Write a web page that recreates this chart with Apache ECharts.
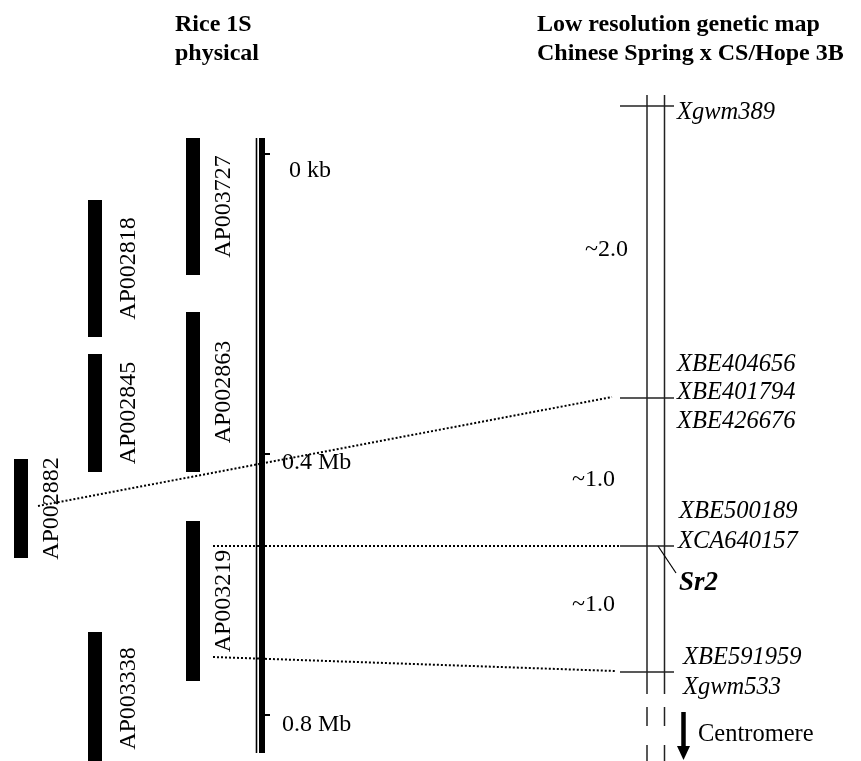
<!DOCTYPE html>
<html><head><meta charset="utf-8">
<script src="https://cdn.jsdelivr.net/npm/echarts@6/dist/echarts.min.js"></script>
<style>html,body{margin:0;padding:0;background:#fff}#c{width:861px;height:761px}</style>
</head><body><div id="c"></div>
<script>
// ---- Data (diagram units: x across, y down the chromosome) ----
// Rice 1S BAC clones
const bacNames = ['AP003727','AP002818','AP002845','AP002863','AP002882','AP003219','AP003338'];
const bacLane  = [2, 1, 1, 2, 0, 2, 1];
const bacStart = [138, 200, 354, 312, 459, 521, 632];
const bacEnd   = [275, 337, 472, 472, 558, 681, 765];

// Physical scale ticks
const physTickLabels = ['0 kb', '0.4 Mb', '0.8 Mb'];
const physTickPos    = [154, 454, 715];
const physLabelPos   = [171, 463, 725];

// Genetic map loci (y positions) and marker labels
const lociPos      = [106, 398, 546, 672];
const markerNames  = ['Xgwm389','XBE404656','XBE401794','XBE426676','XBE500189','XCA640157','XBE591959','Xgwm533'];
const markerPos    = [113, 365, 393, 422, 512, 542, 658, 688];
const markerIndent = [0, 0, 0, 0, 2, 1, 6, 6];

// Genetic distances (cM) between loci
const distLabels = ['~2.0', '~1.0', '~1.0'];
const distPos    = [250, 480, 605];

// Colinearity links: [x0, y0, x1, y1]
const linkFrom = [[38, 506], [213, 546], [213, 657]];
const linkTo   = [[612, 397], [620, 546], [615, 671]];

// ---- Layout constants ----
const laneX = [14, 88, 186];
const laneLabelOffset = [24, 27, 24];
const barW = 14;
const FONT = '"Liberation Serif", "Times New Roman", serif';

const chart = echarts.init(document.getElementById('c'), null, {renderer: 'canvas'});

function seg(api, a, b, style) {
  const p = api.coord(a), q = api.coord(b);
  return {type: 'line', shape: {x1: p[0], y1: p[1], x2: q[0], y2: q[1]}, style: Object.assign({stroke: '#000', lineWidth: 1.5}, style)};
}
function txt(api, pt, text, font, align, extra) {
  const p = api.coord(pt);
  return Object.assign({type: 'text', x: p[0], y: p[1],
    style: {text: text, font: font, fill: '#000', textAlign: align || 'left', textVerticalAlign: 'middle'}}, extra || {});
}

const option = {
  animation: false,
  backgroundColor: '#fff',
  title: [
    {text: 'Rice 1S\nphysical', left: 170, top: 5,
     textStyle: {fontFamily: FONT, fontSize: 24, fontWeight: 'bold', color: '#000', lineHeight: 29}},
    {text: 'Low resolution genetic map\nChinese Spring x CS/Hope 3B', left: 532, top: 5,
     textStyle: {fontFamily: FONT, fontSize: 24, fontWeight: 'bold', color: '#000', lineHeight: 29}}
  ],
  grid: {left: 0, right: 0, top: 0, bottom: 0},
  xAxis: {type: 'value', min: 0, max: 861, show: false},
  yAxis: {type: 'value', min: 0, max: 761, inverse: true, show: false},
  series: [
    // BAC bars
    {
      type: 'custom', coordinateSystem: 'cartesian2d',
      data: bacNames.map((n, i) => [bacLane[i], bacStart[i], bacEnd[i]]),
      renderItem: function (params, api) {
        const i = params.dataIndex;
        const lane = api.value(0);
        const x0 = laneX[lane];
        const p0 = api.coord([x0, api.value(1)]);
        const p1 = api.coord([x0 + barW, api.value(2)]);
        return {type: 'group', children: [
          {type: 'rect', shape: {x: p0[0], y: p0[1], width: p1[0] - p0[0], height: p1[1] - p0[1]}, style: {fill: '#000'}},
          {type: 'text', x: p1[0] + laneLabelOffset[lane], y: (p0[1] + p1[1]) / 2, rotation: Math.PI / 2,
           style: {text: bacNames[i], font: '24px ' + FONT, fill: '#000', textAlign: 'center', textVerticalAlign: 'middle'}}
        ]};
      }
    },
    // Physical axis (double line) + ticks
    {
      type: 'custom', coordinateSystem: 'cartesian2d',
      data: physTickPos.map((p, i) => [p, physLabelPos[i]]),
      renderItem: function (params, api) {
        const i = params.dataIndex;
        const children = [];
        if (i === 0) {
          children.push(seg(api, [256.5, 138], [256.5, 753], {lineWidth: 1.6}));
          const a = api.coord([259, 138]), b = api.coord([265, 753]);
          children.push({type: 'rect', shape: {x: a[0], y: a[1], width: b[0] - a[0], height: b[1] - a[1]}, style: {fill: '#000'}});
        }
        children.push(seg(api, [265, api.value(0)], [270, api.value(0)], {lineWidth: 2}));
        children.push(txt(api, [i === 0 ? 289 : 282, api.value(1)], physTickLabels[i], '24px ' + FONT));
        return {type: 'group', children: children};
      }
    },
    // Genetic map chromosome
    {
      type: 'custom', coordinateSystem: 'cartesian2d',
      data: [[0]],
      renderItem: function (params, api) {
        const ch = [];
        [647, 664.5].forEach(function (x) {
          ch.push(seg(api, [x, 95], [x, 694], {lineWidth: 1.5, stroke: '#222'}));
          ch.push(seg(api, [x, 707], [x, 726], {lineWidth: 1.5, stroke: '#222'}));
          ch.push(seg(api, [x, 745], [x, 770], {lineWidth: 1.5, stroke: '#222'}));
        });
        // Sr2 connector
        ch.push(seg(api, [658, 546], [676, 573], {lineWidth: 1.2}));
        ch.push(txt(api, [679, 583], 'Sr2', 'italic bold 27px ' + FONT));
        // centromere arrow
        ch.push(seg(api, [683.5, 712], [683.5, 750], {lineWidth: 4.5}));
        const t1 = api.coord([677, 746]), t2 = api.coord([690, 746]), t3 = api.coord([683.5, 760]);
        ch.push({type: 'polygon', shape: {points: [t1, t2, t3]}, style: {fill: '#000'}});
        ch.push(txt(api, [698, 735], 'Centromere', '24.5px ' + FONT));
        return {type: 'group', children: ch};
      }
    },
    // Loci ticks
    {
      type: 'custom', coordinateSystem: 'cartesian2d',
      data: lociPos.map(p => [p]),
      renderItem: function (params, api) {
        const y = api.value(0);
        return seg(api, [620, y], [674, y], {lineWidth: 1.5, stroke: '#222'});
      }
    },
    // Marker labels
    {
      type: 'custom', coordinateSystem: 'cartesian2d',
      data: markerPos.map((p, i) => [markerIndent[i], p]),
      renderItem: function (params, api) {
        return txt(api, [677 + api.value(0), api.value(1)], markerNames[params.dataIndex], 'italic 24.5px ' + FONT);
      }
    },
    // Distance labels
    {
      type: 'custom', coordinateSystem: 'cartesian2d',
      data: distPos.map(p => [p]),
      renderItem: function (params, api) {
        return txt(api, [params.dataIndex === 0 ? 585 : 572, api.value(0)], distLabels[params.dataIndex], '24px ' + FONT);
      }
    },
    // Dotted colinearity links
    {
      type: 'custom', coordinateSystem: 'cartesian2d',
      data: linkFrom.map((a, i) => [a[0], a[1], linkTo[i][0], linkTo[i][1]]),
      renderItem: function (params, api) {
        return seg(api, [api.value(0), api.value(1)], [api.value(2), api.value(3)], {lineWidth: 2, lineDash: [2, 2]});
      }
    }
  ]
};
chart.setOption(option);
</script></body></html>
